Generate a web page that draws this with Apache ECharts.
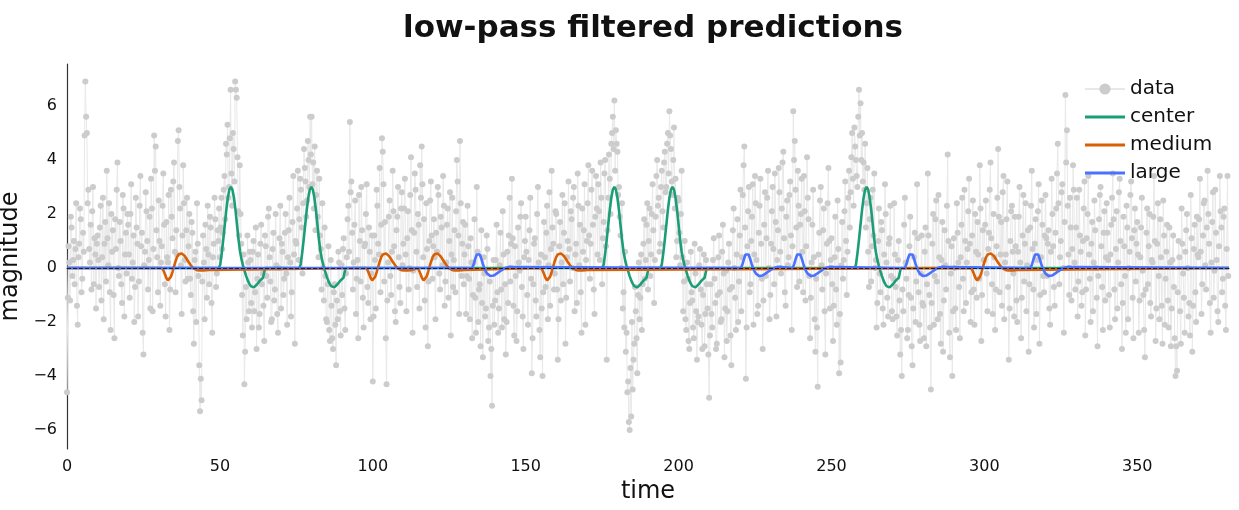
<!DOCTYPE html>
<html>
<head>
<meta charset="utf-8">
<script src="https://cdn.jsdelivr.net/npm/echarts@6/dist/echarts.min.js"></script>
<style>
  html, body { margin: 0; padding: 0; background: #fff; }
  #chart { width: 1239px; height: 510px; }
</style>
</head>
<body>
<div id="chart"></div>
<script>
// raw measurements, one value every quarter time unit (one row = 10 time units)
const dataStep = 0.25
const dataValues = [
  -4.6, -1.1, 0.8, 0.2, -1.2, 1.9, 1.5, -0.3, 0.3, 1.0, -0.6, 0.7, 2.4, -1.4, -2.1, 0.4, 0.9, 2.2, 1.8, -0.9, -0.4, 1.3, 0.6, 4.9, 6.9, 5.6, 5.0, 2.4, 2.9, 0.7, 0.2, 1.6, -0.8, 2.1, 3.0, -0.6, 1.1, 0.5, -1.5, 0.9,
  1.2, 0.3, -0.7, 1.5, 2.3, -1.2, 0.4, 2.6, -1.9, 0.9, 1.7, -0.5, 3.6, 1.1, 0.1, 2.4, -0.9, -2.3, 2.0, 0.6, 1.4, -1.0, -2.6, 1.8, 0.7, 2.9, 3.9, 0.0, -0.3, 1.7, 1.0, -0.6, -1.3, 2.7, 2.2, -1.8, 0.5, 1.3, -0.2, 2.0,
  1.6, 0.5, -1.1, 2.0, 3.1, -0.4, 0.2, 1.2, -2.0, -0.7, 2.6, 1.5, 0.9, -1.8, -0.5, 2.3, 3.4, 0.8, 1.3, -2.4, -3.2, 0.1, 0.6, 2.8, 2.1, 1.0, -0.8, 0.3, 1.9, -1.5, 3.3, 2.2, -1.6, 0.7, 4.9, 3.6, 4.5, 1.4, 0.4, -0.9,
  2.5, 1.0, -1.4, 0.2, 0.8, 2.3, 3.5, 1.6, -0.6, -1.8, 1.7, 0.4, 0.2, 2.7, -2.3, -0.8, 2.9, 1.9, 1.1, 3.2, 3.9, 0.6, -0.9, 1.4, 0.5, 4.7, 5.1, 3.0, 2.2, 0.1, -1.7, 1.2, 3.8, 2.4, 0.3, -0.5, 1.4, 2.6, -0.4, 0.8,
  2.0, -0.4, -1.0, 1.7, 1.3, -1.6, -2.8, 0.3, 0.6, -2.0, 2.4, 0.9, -0.3, -3.6, -5.3, -4.1, -4.9, -0.5, 1.2, 0.2, -1.9, 1.6, 0.7, -1.1, 2.3, 0.5, -0.6, 1.9, 1.5, -1.3, -2.4, 0.4, 0.9, 2.6, 1.8, -0.7, -0.2, 1.4, 1.0, 2.2,
  0.4, 1.5, 2.6, 0.7, 1.3, 2.9, 3.4, 1.8, 4.6, 4.2, 5.3, 2.6, 3.0, 4.8, 6.6, 3.5, 2.3, 5.0, 4.4, 3.2, 6.9, 6.6, 6.3, 4.1, 2.1, 1.2, 3.8, 2.0, 0.9, -1.0, -2.5, 0.5, -4.3, -3.1, -0.7, -1.9, 1.2, 0.2, -1.6, 0.6,
  0.3, -1.3, -2.2, 0.6, 1.0, -1.6, -0.9, 1.5, -3.0, -0.4, 0.5, -2.2, -1.7, 0.9, 1.6, -0.6, -0.2, -1.4, -2.7, 1.2, 0.8, -0.3, -1.1, 1.9, 2.2, 0.4, -0.5, -2.0, -1.9, 0.7, 1.3, -1.2, -0.8, 2.0, 0.1, -1.7, -2.4, 0.0, 1.1, 2.3,
  -1.5, 0.9, 0.6, -1.0, -0.4, 1.3, 2.0, -0.2, -2.1, 0.4, 1.4, 2.6, 0.2, -1.8, -0.9, 1.7, 3.4, 0.5, -2.8, 1.0, 0.9, 2.2, 3.6, 0.3, 1.8, 3.3, 2.9, 1.5, -0.2, 2.4, 4.4, 3.7, 3.2, 1.9, 2.5, 4.7, 4.0, 3.0, 5.6, 4.2,
  5.6, 3.1, 3.9, 2.2, 4.5, 1.4, 2.7, 3.6, 1.9, 0.4, 3.3, 1.2, 0.7, -0.8, 2.4, 0.0, -1.2, 1.5, -0.3, -1.9, -2.0, -0.6, 0.8, -2.3, -2.7, 0.3, -1.4, -2.6, -3.0, -0.9, -0.6, -2.1, -3.6, -1.2, -1.9, 0.6, 0.2, -1.6, -2.5, 0.1,
  -1.0, 0.7, 1.1, -1.5, -2.3, -0.2, 0.4, 1.8, 2.3, 0.6, 5.4, 2.8, 3.2, 1.3, -0.8, 0.2, 1.6, 2.5, -1.7, -0.4, 0.3, -2.6, 2.7, 1.0, -0.5, 3.0, 1.4, -1.1, -2.2, 0.8, 0.9, 2.0, 3.1, -0.7, -1.3, 1.5, 0.6, -1.9, -0.2, 1.2,
  -4.2, -1.8, 1.2, 0.3, -1.5, 2.9, 2.3, 0.9, 0.5, 3.7, -0.9, 1.6, 4.8, 4.3, 3.1, -0.5, 1.7, -2.6, -4.3, -1.2, 0.2, 1.9, 2.5, -0.3, -1.0, 0.6, 3.6, 2.1, 0.8, -1.6, -2.0, 1.4, 1.9, 3.0, 0.4, -0.7, -1.3, 2.2, 2.8, 0.1,
  0.9, 2.2, 3.3, 0.5, -1.6, 1.1, 2.1, -0.8, 0.0, 2.7, 4.1, 1.4, -2.4, -0.1, 1.3, 3.5, 2.9, 0.6, -0.7, 2.0, 1.6, -1.5, 3.8, 2.6, 4.5, 3.1, 0.4, 1.8, -1.2, -2.2, 2.4, 0.7, -2.9, -0.5, 1.0, 2.5, 3.2, 1.2, -0.4, 0.8,
  1.8, 0.4, -1.9, 1.3, 0.6, 3.0, 2.7, -0.2, -0.8, 1.9, 1.5, 0.1, 3.4, 2.3, -1.4, -0.5, 0.2, 1.6, 2.2, -1.1, 1.0, 2.8, -2.5, 0.5, 2.6, -0.7, 0.3, 1.4, -0.9, 2.1, 4.0, 3.2, 1.2, -1.7, 4.7, 2.4, -0.3, 0.9, 1.7, -0.6,
  0.5, 1.6, -1.7, -0.3, 2.3, 0.8, -0.4, -1.9, 1.1, 0.2, -2.6, -1.0, 0.2, 1.8, -1.1, -2.4, 3.0, 0.6, -2.0, -0.8, -0.6, -2.9, 1.4, -1.3, -3.3, 0.4, -0.2, -1.8, -1.5, 1.2, 0.7, -2.7, -2.2, -0.5, -4.0, -3.0, -5.1, -1.4, 0.3, -2.1,
  -1.2, 0.3, 1.6, -0.9, -2.4, -1.5, 0.1, 1.3, -0.8, -2.2, 2.1, 0.5, -1.9, -0.6, -3.2, -2.0, 0.6, -1.3, 1.2, 2.6, -0.5, 0.9, 3.3, 1.1, -1.4, -2.5, 0.8, -0.3, -2.7, -1.6, 1.5, 0.2, -0.1, 1.9, 2.4, -0.7, -1.8, -3.0, 0.4, 1.0,
  1.9, 0.6, -1.0, -2.1, 0.3, 1.4, 2.6, -0.4, -3.9, -2.6, -0.6, 0.9, 1.1, -1.2, -1.8, 2.0, 3.0, 0.2, -2.3, -3.3, 0.5, -1.5, -4.0, -0.9, 1.7, 0.4, -0.7, 1.3, 2.3, -1.9, 0.1, 2.8, -1.4, 0.7, 3.6, 1.5, 0.9, -0.8, -0.2, 2.1,
  2.0, -0.8, -3.4, -1.9, 0.8, 1.7, -1.2, 0.2, 2.7, -0.6, 1.3, 2.4, -2.8, -1.1, 0.4, 1.0, 3.2, 0.7, -0.5, 2.1, 1.8, 0.0, 2.6, 3.0, -1.6, 0.5, 0.9, -1.3, 3.5, 2.3, 0.1, 1.6, -0.9, -2.4, 2.2, 0.6, 1.4, 3.1, -2.1, 0.3,
  1.0, 2.4, 3.8, 1.2, -0.4, 0.9, 2.9, 3.6, 1.6, -0.8, -1.7, 1.9, 3.4, 2.2, 0.5, 3.1, 2.1, 0.3, 3.9, 2.6, -0.6, 1.1, 1.7, 3.5, 4.0, 0.8, -3.4, 1.4, 2.6, 4.2, 3.3, 2.0, 4.6, 5.0, 5.6, 4.4, 6.2, 3.6, 5.1, 4.6,
  4.3, 2.7, 3.0, 1.9, 1.2, 0.0, 2.4, -1.5, -0.9, -2.2, 0.6, -3.1, -2.4, -4.6, -4.2, -5.7, -6.0, -3.7, -5.5, -2.0, -4.5, -3.4, -2.8, -0.7, -1.6, -2.6, -3.9, -1.0, 0.2, -1.9, -1.1, 0.5, -2.3, -0.6, 0.9, 1.8, -0.4, 0.3, 1.6, 2.4,
  -0.8, 1.0, 2.2, -0.3, 0.5, 2.0, 3.1, 1.4, -1.3, 0.3, 1.9, 3.4, 4.0, 2.3, 2.6, 0.6, 0.9, 3.0, 3.6, 2.1, 1.5, 3.9, 4.3, 2.8, 3.0, 4.6, 5.0, 3.5, 5.8, 4.9, 4.4, 3.2, 2.7, 4.0, 5.2, 2.2, 3.3, 0.4, 1.0, 2.6,
  2.5, 1.3, 0.1, 2.0, 3.6, 0.4, -1.6, -0.5, 1.0, -1.9, -2.3, 0.2, -0.4, -2.7, -3.0, -1.3, 0.6, -0.9, -1.2, -2.2, -2.6, 0.9, -0.2, -1.6, -3.4, -2.0, -1.8, 0.1, 0.7, -0.8, -2.1, -3.0, -1.0, 0.5, -2.9, -1.7, 0.3, -0.6, -1.5, -3.2,
  -4.8, -2.5, -0.6, -1.7, -2.2, 0.3, 1.1, -0.4, -1.3, -3.0, -2.8, -1.0, 0.4, 1.2, -0.9, -2.0, -1.9, 0.6, 1.6, -0.2, -3.3, -1.5, -0.1, -2.7, -1.6, 0.2, 0.9, -0.8, -2.5, -3.6, -0.7, 1.4, 2.2, 0.0, -1.1, -2.3, 0.5, 1.8, -2.0, -0.5,
  1.2, 2.9, -1.6, 0.4, 2.7, 3.8, 4.5, 1.5, -4.1, -2.2, 0.8, 2.1, 3.0, -0.9, -0.6, 1.0, 1.9, 3.1, -2.1, 0.5, 3.4, 2.4, 0.3, -1.7, -1.4, 1.3, 2.3, 3.3, 0.9, -0.4, -3.0, -1.2, 1.6, 2.8, -0.3, 1.1, 2.6, 3.6, 0.0, -1.9,
  -1.0, 0.9, 2.1, 3.0, 0.7, -0.6, 3.5, 1.7, -1.8, 0.3, 1.4, 3.7, 2.8, 0.6, -0.2, 2.2, 3.9, 4.3, 1.1, -0.9, -1.4, 1.9, 2.5, 0.1, 0.4, 2.7, 3.2, 1.2, -2.3, 0.8, 5.8, 4.0, 4.7, 2.9, 1.5, -0.7, 3.6, 2.3, -0.5, 1.6,
  2.0, 3.3, 0.6, -0.9, 3.4, 2.1, -1.2, 0.8, 4.1, 2.6, 1.8, -0.3, -2.6, -1.1, 0.2, 1.6, 2.9, 0.4, -1.9, -3.1, -0.4, -2.2, -4.4, 0.5, 1.3, 2.5, 3.0, 0.1, -0.8, 1.4, 2.2, -1.6, -3.2, -0.2, 0.9, 2.4, 3.7, 1.0, -1.5, 0.3,
  1.1, -0.6, -2.7, -1.4, 0.4, 1.9, -0.8, -2.1, 2.5, 0.7, -3.9, -1.7, -3.5, 0.1, 1.7, -0.4, 0.3, 2.1, 3.2, 1.0, -1.0, 0.6, 2.6, 3.6, 1.5, 2.8, 4.1, 5.0, 3.3, 2.3, 5.2, 4.5, 4.0, 3.4, 3.0, 5.6, 6.6, 4.9, 6.1, 4.0,
  5.0, 3.2, 3.9, 2.9, 4.6, 1.5, 2.4, 3.7, 0.6, -0.7, 1.8, 2.6, -0.5, 0.8, 2.9, 1.2, 3.5, 0.0, 0.3, -2.2, -1.3, 1.0, 2.2, -0.2, -0.9, 1.7, 1.4, -1.5, -2.1, 0.5, 3.1, 2.0, 0.2, -1.1, -1.8, 0.9, 1.1, 2.3, -0.3, -1.6,
  -1.9, -0.4, 2.4, 0.5, -0.7, -1.8, -2.5, 0.3, 1.0, -1.2, -3.2, -2.3, -4.0, -0.8, -1.6, 1.6, 2.6, 0.2, -0.4, -2.6, -2.3, -1.0, 0.8, 1.9, -1.1, -2.9, -3.6, -1.5, 0.4, 1.3, -2.0, -0.5, 3.1, 1.1, -0.9, -2.1, -2.7, -0.2, 1.2, -1.3,
  -1.4, -2.6, 0.6, 1.5, -2.9, -0.6, 3.5, 1.2, -1.0, -2.2, -4.5, -1.3, 0.9, 2.0, -2.1, -0.3, 1.8, 2.5, -0.5, -1.9, 2.7, 0.4, -1.7, -2.8, 0.3, 1.7, -3.1, -1.2, 1.4, 0.1, -0.8, 2.3, 4.2, 1.0, -2.4, -3.3, -0.2, 0.8, -4.0, -1.6,
  1.1, 0.0, -1.5, -2.3, 2.4, 1.3, 0.2, -0.7, -2.6, 0.4, 1.6, 2.6, -0.4, -1.6, 2.9, 1.0, -1.3, 0.2, 0.7, 2.1, 3.3, 0.9, -2.0, -0.9, 1.2, 2.5, -0.8, -2.1, 2.0, 0.6, -1.1, 1.7, 0.5, -0.4, 3.8, 2.2, -2.7, -1.0, 1.4, 0.3,
  0.3, 1.6, 2.5, -0.2, -1.6, 0.7, 1.3, 2.9, 3.9, 1.1, -0.6, -1.7, 2.0, 0.4, -2.3, -0.8, 0.8, 2.6, 4.4, 1.9, -0.9, 0.5, 1.7, -1.4, 2.8, 3.4, -1.9, 0.2, 0.5, 1.8, 3.2, -0.7, -3.4, -1.5, 1.0, 2.1, 2.3, 0.6, -0.2, -1.8,
  1.9, 0.8, -1.2, -2.0, 0.6, 1.9, 3.0, 0.2, -2.6, -1.1, 1.2, 2.7, -0.5, 0.9, 2.4, -1.6, 0.1, 1.4, -3.1, -0.6, 1.5, 2.3, 3.6, 0.7, -0.8, -2.2, 0.9, 1.8, -1.7, 0.3, 2.1, 3.1, -2.8, -1.0, 0.4, 2.5, 1.6, -0.3, -0.9, 1.2,
  2.7, 1.1, -0.3, 0.9, 1.4, -1.5, -2.1, 0.6, 3.3, 2.0, 0.8, -0.7, -1.4, 1.3, 2.2, 3.5, 4.6, 2.4, -0.6, 0.4, 1.0, 2.8, 3.1, 0.0, -2.4, 1.7, 6.4, 3.9, 5.1, 2.3, 0.5, -1.0, 2.6, 1.5, -1.2, 0.7, 3.8, 2.9, 0.2, -0.8,
  1.5, 2.6, -1.8, -0.5, 2.9, 1.2, 0.6, -1.4, -0.9, 1.0, 2.2, 3.2, -2.5, -0.8, 1.1, 2.0, 3.4, 0.5, -0.4, -2.0, 0.9, 1.7, -1.6, 0.2, 2.5, 1.4, 0.0, -1.1, -2.9, -0.3, 1.8, 2.7, 3.0, 0.8, -0.7, -2.3, 1.3, 2.1, -1.2, 0.4,
  2.4, 1.3, 0.3, -1.0, -2.2, 0.5, 1.6, 2.6, 3.5, 1.8, -0.8, -1.9, 0.7, 2.1, -1.5, 0.2, 2.8, 3.3, 1.0, -0.6, -3.0, -1.3, 1.9, 0.8, -0.3, -2.4, 2.3, 1.5, -1.9, 0.0, 0.6, 2.7, 3.2, 1.1, -1.1, -2.6, 1.4, 2.2, -0.5, 0.9,
  1.7, 0.5, -2.4, -1.2, 0.4, 1.5, 2.6, -0.1, -1.0, -2.3, -3.3, -0.8, 1.3, 2.2, -0.6, 0.8, 2.0, -1.3, -1.8, 0.3, 0.2, 1.9, 3.4, 1.0, -2.7, -1.5, 0.9, 2.4, -0.3, -1.9, 1.8, 0.4, -1.4, -2.8, 2.5, 1.2, -2.1, -0.4, 0.6, 1.6,
  -1.2, -2.2, 1.5, 0.2, -2.9, -1.5, 0.3, 1.2, -0.7, -2.6, -4.0, -2.9, -3.8, -0.9, 1.0, 0.4, -1.6, -2.8, 2.2, 0.9, -0.2, -1.1, -2.4, 0.6, 1.4, 2.0, 0.0, -1.8, -1.3, -2.5, 2.7, 1.1, -3.1, -1.4, 0.7, 1.6, -0.9, -2.0, 1.9, 0.5,
  0.4, 1.8, 3.3, 0.6, -1.7, -0.6, 1.2, 2.4, 2.5, 0.1, -0.8, 1.5, 3.6, 2.0, 0.9, -1.3, -2.4, 0.2, 1.7, 2.8, -1.1, -0.1, 2.9, 1.3, 0.3, -1.6, -2.0, 0.8, 3.4, 2.1, 1.5, -0.9, -0.4, 1.9, 2.2, -1.4, -2.3, 0.7, 3.4, -0.3
]

// filter responses: one kernel shape per filter, and the times it fires
const centerOffsets = [-4, -3.5, -3, -2.5, -2, -1.5, -1, -0.5, 0, 0.5, 1, 1.5, 2, 2.5, 3, 3.5, 4, 4.5, 5, 5.5, 6, 6.5, 7, 7.5, 8, 8.5, 9, 9.5, 10, 10.5, 11, 11.2]
const centerShape = [0, 0.12, 0.55, 1.05, 1.6, 2.15, 2.6, 2.9, 3.0, 2.9, 2.6, 2.15, 1.6, 1.05, 0.6, 0.3, 0.08, -0.12, -0.3, -0.46, -0.58, -0.67, -0.72, -0.72, -0.68, -0.61, -0.54, -0.47, -0.41, -0.36, -0.31, -0.3]
const centerPeaks = [53.6, 79.9, 179.0, 198.0, 261.5]

const mediumOffsets = [-6.5, -6, -5.5, -5, -4.5, -4, -3.5, -3, -2.5, -2, -1.5, -1, -0.5, 0, 0.5, 1, 1.5, 2, 2.5, 3, 3.5, 4, 4.5, 5, 6, 7, 8, 8.7]
const mediumShape = [0, -0.08, -0.22, -0.37, -0.46, -0.44, -0.32, -0.14, 0.06, 0.25, 0.41, 0.5, 0.54, 0.54, 0.5, 0.44, 0.36, 0.27, 0.18, 0.1, 0.03, -0.02, -0.06, -0.08, -0.09, -0.09, -0.08, -0.07]
const mediumPeaks = [37.5, 104.3, 121.1, 161.5, 302.1]

const largeOffsets = [-2, -1.5, -1, -0.5, 0, 0.5, 1, 1.5, 2, 2.5, 3, 3.5, 4, 4.5, 5, 5.5, 6, 7, 8, 9, 10, 11, 12]
const largeShape = [0, 0.14, 0.34, 0.5, 0.57, 0.5, 0.34, 0.15, -0.02, -0.14, -0.22, -0.27, -0.3, -0.3, -0.28, -0.25, -0.21, -0.13, -0.05, 0.01, 0.04, 0.04, 0.03]
const largePeaks = [134.5, 222.4, 239.3, 276.0, 317.1]

const xMax = 380
const xTicks = [0, 50, 100, 150, 200, 250, 300, 350]
const yTicks = [-6, -4, -2, 0, 2, 4, 6]

const FONT = 'DejaVu Sans'
const LINE_ICON = 'path://M0,0H40V3H0Z'

const dataSeries = dataValues.map((v, i) => [i * dataStep, v])

// place a kernel at each firing time, zero in between
const buildResponse = (offsets, shape, peaks) => {
  const pts = [[0, 0]]
  peaks.forEach(p => {
    offsets.forEach((o, k) => pts.push([p + o, shape[k]]))
    pts.push([p + offsets[offsets.length - 1], 0])
  })
  pts.push([xMax, 0])
  return pts
}

const chart = echarts.init(document.getElementById('chart'))

const minus = v => String(v).replace('-', '\u2212')

chart.setOption({
  animation: false,
  textStyle: { fontFamily: FONT },
  title: {
    text: 'low-pass filtered predictions',
    left: 648,
    top: 8,
    textAlign: 'center',
    textStyle: { fontFamily: FONT, fontSize: 31, fontWeight: 'bold', color: '#111' },
  },
  legend: {
    orient: 'vertical',
    left: 1079,
    top: 74,
    itemWidth: 40,
    itemHeight: 14,
    itemGap: 8,
    textStyle: { fontFamily: FONT, fontSize: 20, color: '#111', lineHeight: 20 },
    data: [
      { name: 'data' },
      { name: 'center', icon: LINE_ICON },
      { name: 'medium', icon: LINE_ICON },
      { name: 'large', icon: LINE_ICON },
    ],
  },
  grid: { left: 67, right: 10, top: 64, bottom: 61, containLabel: false, outerBoundsMode: 'none' },
  xAxis: {
    type: 'value',
    min: 0,
    max: xMax,
    name: 'time',
    nameLocation: 'middle',
    nameGap: 28,
    nameTextStyle: { fontFamily: FONT, fontSize: 24, color: '#111' },
    axisLine: { lineStyle: { color: '#333', width: 1.2 } },
    axisTick: { show: false },
    splitLine: { show: false },
    axisLabel: {
      customValues: xTicks,
      fontFamily: FONT,
      fontSize: 16,
      color: '#111',
      margin: 10,
    },
  },
  yAxis: {
    type: 'value',
    min: -6.7,
    max: 7.55,
    name: 'magnitude',
    nameLocation: 'middle',
    nameGap: 20,
    nameTextStyle: { fontFamily: FONT, fontSize: 24, color: '#111' },
    axisLine: { show: true, lineStyle: { color: '#333', width: 1.2 } },
    axisTick: { show: false },
    splitLine: { show: false },
    axisLabel: {
      customValues: yTicks,
      fontFamily: FONT,
      fontSize: 16,
      color: '#111',
      margin: 10,
      formatter: v => minus(v),
    },
  },
  series: [
    {
      name: 'data',
      type: 'line',
      data: dataSeries,
      symbol: 'circle',
      symbolSize: 6,
      showAllSymbol: true,
      itemStyle: { color: '#cccccc' },
      lineStyle: { color: '#e8e8e8', width: 1 },
      z: 1,
    },
    {
      name: 'center',
      type: 'line',
      data: buildResponse(centerOffsets, centerShape, centerPeaks),
      symbol: 'none',
      lineStyle: { color: '#1b9e77', width: 2.6 },
      itemStyle: { color: '#1b9e77' },
      z: 2,
    },
    {
      name: 'medium',
      type: 'line',
      data: buildResponse(mediumOffsets, mediumShape, mediumPeaks),
      symbol: 'none',
      lineStyle: { color: '#d95f02', width: 2.6 },
      itemStyle: { color: '#d95f02' },
      z: 3,
    },
    {
      name: 'large',
      type: 'line',
      data: buildResponse(largeOffsets, largeShape, largePeaks),
      symbol: 'none',
      lineStyle: { color: '#4a72ff', width: 2.6 },
      itemStyle: { color: '#4a72ff' },
      z: 4,
      markLine: {
        silent: true,
        symbol: 'none',
        label: { show: false },
        lineStyle: { color: '#1c1c48', type: [4, 2], width: 1 },
        data: [{ yAxis: 0 }],
      },
    },
  ],
})
</script>
</body>
</html>
